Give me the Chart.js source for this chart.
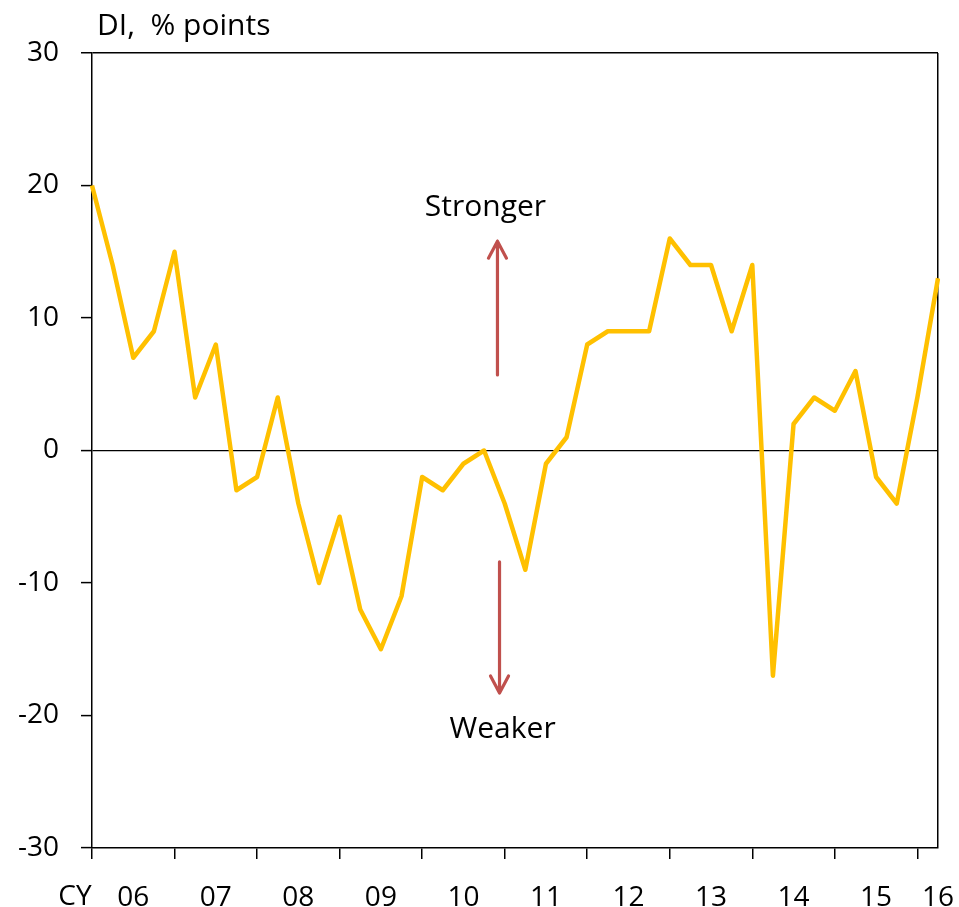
<!DOCTYPE html>
<html>
<head>
<meta charset="utf-8">
<script src="https://cdn.jsdelivr.net/npm/chart.js@4/dist/chart.umd.min.js"></script>
<style>
  html, body { margin: 0; padding: 0; background: #fff; }
  #wrap { width: 959px; height: 907px; position: relative; }
</style>
</head>
<body>
<div id="wrap"><canvas id="chart1"></canvas></div>
<script>
// quarterly DI, CY2006 Q1 .. CY2016 Q2
const years = ['06', '07', '08', '09', '10', '11', '12', '13', '14', '15', '16'];
const quarters = [];
years.forEach(y => { for (let q = 1; q <= 4; q++) quarters.push(y + 'Q' + q); });
quarters.length = 42; // series ends at 16Q2

const diValues = [20, 14, 7, 9, 15, 4, 8, -3, -2, 4, -4, -10, -5, -12, -15, -11,
                  -2, -3, -1, 0, -4, -9, -1, 1, 8, 9, 9, 9, 16, 14, 14, 9,
                  14, -17, 2, 4, 3, 6, -2, -4, 4, 13];

const yTicks = [-30, -20, -10, 0, 10, 20, 30];

const FONT = 'Open Sans';
const FSIZE = 28;
const TSIZE = 30;
const ARROW = '#C0504D';

const annotate = {
    id: 'annotate',
    afterDraw(chart) {
        const c = chart.ctx;
        const xs = chart.scales.x, ys = chart.scales.y;
        c.save();
        c.fillStyle = '#000';
        c.textBaseline = 'alphabetic';

        // axis captions
        c.font = TSIZE + 'px "' + FONT + '"';
        c.textAlign = 'left';
        c.fillText('DI,  % points', 97, 35);
        c.textAlign = 'center';
        c.font = FSIZE + 'px "' + FONT + '"';
        c.fillText('CY', 75, 905);

        // labels
        c.font = TSIZE + 'px "' + FONT + '"';
        c.fillText('Stronger', xs.getPixelForValue(19.07), ys.getPixelForValue(17.7));
        c.fillText('Weaker', xs.getPixelForValue(19.9), ys.getPixelForValue(-21.7));

        // arrows
        const arrow = (xv, fromV, toV) => {
            const x = xs.getPixelForValue(xv);
            const y0 = ys.getPixelForValue(fromV);
            const y1 = ys.getPixelForValue(toV);
            const dir = y1 < y0 ? 1 : -1;
            c.strokeStyle = ARROW;
            c.lineWidth = 3.2;
            c.lineCap = 'round';
            c.lineJoin = 'round';
            c.beginPath();
            c.moveTo(x, y0);
            c.lineTo(x, y1);
            c.moveTo(x - 9, y1 + dir * 17);
            c.lineTo(x, y1);
            c.lineTo(x + 9, y1 + dir * 17);
            c.stroke();
        };
        arrow(19.65, 5.7, 15.8);
        arrow(19.75, -8.4, -18.3);
        c.restore();
    }
};

const ctx = document.getElementById('chart1').getContext('2d');

const chart1 = new Chart(ctx, {
    type: 'line',
    data: {
        labels: quarters,
        datasets: [{
            label: 'DI',
            data: diValues,
            borderColor: '#FFC000',
            borderWidth: 4.5,
            borderJoinStyle: 'round',
            pointRadius: 0,
            tension: 0,
            fill: false
        }]
    },
    options: {
        responsive: true,
        maintainAspectRatio: false,
        animation: false,
        layout: { padding: { left: 0, right: 21, top: 53, bottom: 0 } },
        plugins: {
            legend: { display: false },
            tooltip: { enabled: false }
        },
        scales: {
            x: {
                offset: false,
                border: { color: '#000', width: 1.5 },
                grid: {
                    drawOnChartArea: true,
                    color: c => c.index === quarters.length - 1 ? '#000' : 'rgba(0,0,0,0)',
                    lineWidth: 1.5,
                    tickColor: c => c.index % 4 === 0 ? '#000' : 'rgba(0,0,0,0)',
                    tickWidth: 1.5,
                    tickLength: 11
                },
                ticks: {
                    autoSkip: false,
                    maxRotation: 0,
                    minRotation: 0,
                    padding: 22,
                    color: '#000',
                    font: { family: FONT, size: FSIZE },
                    callback: (v, i) => {
                        if (i === quarters.length - 1 || i % 4 === 2) return quarters[i].slice(0, 2);
                        return '';
                    }
                },
                afterFit: s => { s.height = 59; s.paddingLeft = 0; s.paddingRight = 0; }
            },
            y: {
                min: -30,
                max: 30,
                afterBuildTicks: s => { s.ticks = yTicks.map(v => ({ value: v })); },
                border: { color: '#000', width: 1.5 },
                grid: {
                    drawOnChartArea: true,
                    color: c => (c.tick && (c.tick.value === 0 || c.tick.value === 30)) ? '#000' : 'rgba(0,0,0,0)',
                    lineWidth: c => (c.tick && c.tick.value === 30) ? 1.5 : 1.2,
                    tickColor: '#000',
                    tickWidth: 1.5,
                    tickLength: 11
                },
                ticks: {
                    padding: 22,
                    color: '#000',
                    font: { family: FONT, size: FSIZE }
                },
                afterFit: s => { s.width = 92; }
            }
        }
    },
    plugins: [annotate]
});
</script>
</body>
</html>
